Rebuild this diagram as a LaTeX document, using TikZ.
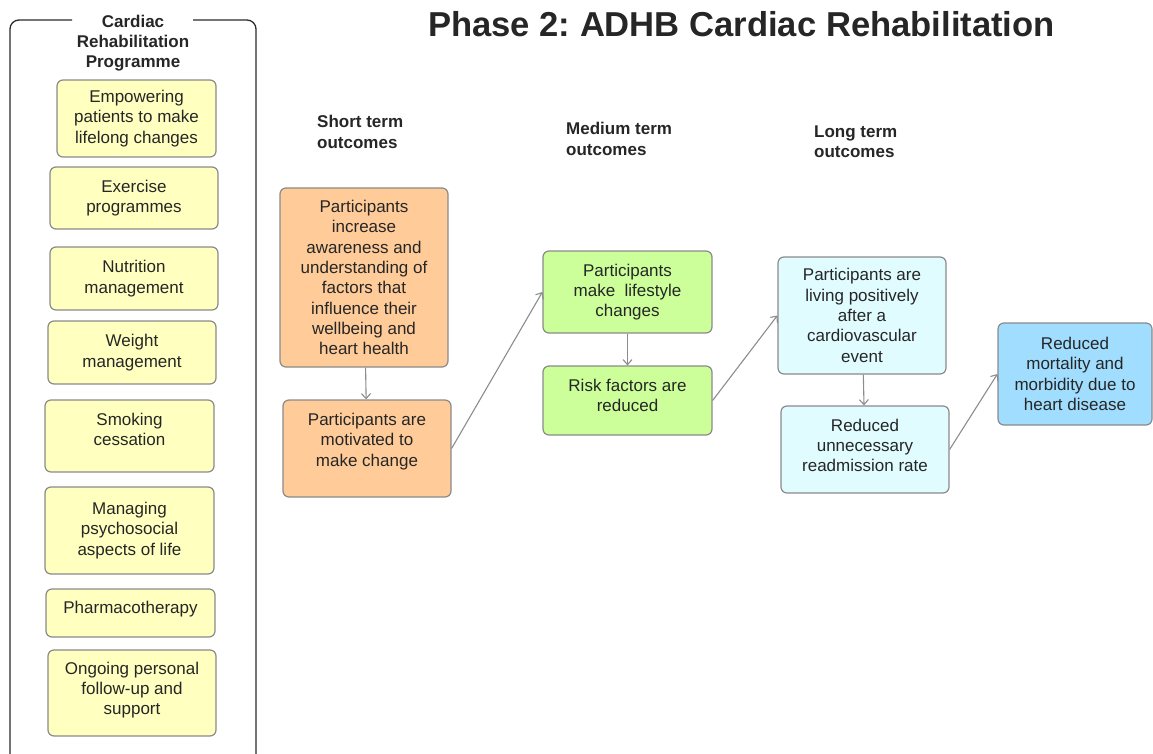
\documentclass[tikz,border=0pt]{standalone}
\usepackage{fontspec}
\setmainfont{Liberation Sans}
\usetikzlibrary{arrows.meta}
\frenchspacing
\definecolor{frame}{HTML}{2A2A2A}
\definecolor{ink}{HTML}{262626}
\definecolor{boxline}{HTML}{8A8A8A}
\definecolor{arrline}{HTML}{8C8C8C}
\definecolor{progfill}{HTML}{FFFFC0}
\definecolor{shortfill}{HTML}{FFCC99}
\definecolor{medfill}{HTML}{CCFF99}
\definecolor{longfill}{HTML}{E0FCFF}
\definecolor{endfill}{HTML}{A0DDFF}
\newcommand{\lift}[1]{\rule[-#1]{0pt}{0pt}}
\begin{document}
\begin{tikzpicture}[x=1pt, y=-1pt,
  font=\fontsize{17}{20.3}\selectfont, text=ink,
  box/.style={draw=boxline, line width=1.2pt, rounded corners=6pt, align=center, inner sep=0pt},
  head/.style={font=\fontsize{17}{20.3}\selectfont\bfseries, align=left, anchor=west, inner sep=0pt},
  arr/.style={draw=arrline, line width=1.1pt, -{Straight Barb[length=5pt,width=9pt]}}]
\useasboundingbox (0,0) rectangle (1153,754);
\node[font=\fontsize{34.6}{40}\selectfont\bfseries, anchor=base] (ttl) at (741.5,37) {Phase 2: ADHB Cardiac Rehabilitation};
\node[font=\fontsize{17}{20.3}\selectfont\bfseries, align=center] (crp) at (133,43) {Cardiac\\Rehabilitation\\Programme};
\draw[frame, line width=1.3pt, rounded corners=9pt] (72,20) -- (10,20) -- (10,770);
\draw[frame, line width=1.3pt, rounded corners=9pt] (193,20) -- (256,20) -- (256,770);
\node[box, fill=progfill, minimum width=159pt, minimum height=77pt] (emp) at (136.5,118.5) {Empowering\\patients to make\\lifelong changes};
\node[box, fill=progfill, minimum width=168pt, minimum height=62pt] (ex) at (134,198) {Exercise\\programmes};
\node[box, fill=progfill, minimum width=168pt, minimum height=63pt] (nut) at (134,278.5) {Nutrition\\management};
\node[box, fill=progfill, minimum width=168pt, minimum height=63pt] (wt) at (132,352.5) {Weight\\management};
\node[box, fill=progfill, minimum width=169pt, minimum height=72pt] (smk) at (129.5,436) {Smoking\\cessation\lift{13pt}};
\node[box, fill=progfill, minimum width=169pt, minimum height=87pt] (psy) at (129.5,530.5) {Managing\\psychosocial\\aspects of life};
\node[box, fill=progfill, minimum width=169pt, minimum height=48pt] (ph) at (130.5,613) {Pharmacotherapy\lift{11.5pt}};
\node[box, fill=progfill, minimum width=168pt, minimum height=86pt] (fol) at (132,693) {Ongoing personal\\follow-up and\\support\lift{9.5pt}};
\node[head] (st) at (317,132) {Short term\\outcomes};
\node[head] (mt) at (566,139) {Medium term\\outcomes};
\node[head] (lt) at (814,142) {Long term\\outcomes};
\node[box, fill=shortfill, minimum width=168pt, minimum height=179pt] (aw) at (364,277.5) {Participants\\increase\\awareness and\\understanding of\\factors that\\influence their\\wellbeing and\\heart health};
\node[box, fill=shortfill, minimum width=168pt, minimum height=97pt] (mot) at (367,448.5) {Participants are\\motivated to\\make change\lift{17.5pt}};
\node[box, fill=medfill, minimum width=169pt, minimum height=82pt] (ls) at (627.5,292) {Participants\\make\ \ lifestyle\\changes};
\node[box, fill=medfill, minimum width=169pt, minimum height=69pt] (rf) at (627.5,400.5) {Risk factors are\\reduced\lift{10pt}};
\node[box, fill=longfill, minimum width=168pt, minimum height=117pt] (lp) at (862,315.5) {Participants are\\living positively\\after a\\cardiovascular\\event};
\node[box, fill=longfill, minimum width=168pt, minimum height=87pt] (ra) at (865,449.5) {Reduced\\unnecessary\\readmission rate\lift{8pt}};
\node[box, fill=endfill, minimum width=154pt, minimum height=102pt] (mm) at (1075,374) {Reduced\\mortality and\\morbidity due to\\heart disease};
\draw[arr] (aw) -- (mot);
\draw[arr] (mot.east) -- (ls.west);
\draw[arr] (ls) -- (rf);
\draw[arr] (rf.east) -- (lp.west);
\draw[arr] (lp) -- (ra);
\draw[arr] (ra.east) -- (mm.west);
\end{tikzpicture}
\end{document}
